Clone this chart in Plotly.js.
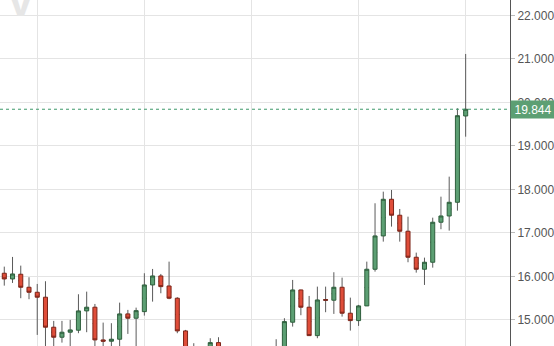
<!DOCTYPE html>
<html>
<head>
<meta charset="utf-8">
<script src="https://cdn.plot.ly/plotly-3.0.1.min.js"></script>
<style>html,body{margin:0;padding:0;background:#fff;}#chart{width:554px;height:346px;}</style>
</head>
<body>
<div id="chart"></div>
<script>
// Candle index (session number)
const sessions = [0,1,2,3,4,5,6,7,8,9,10,11,12,13,14,15,16,17,18,19,20,21,22,23,24,25,26,27,28,29,30,31,32,33,34,35,36,37,38,39,40,41,42,43,44,45,46,47,48,49,50,51,52,53,54,55,56];
const opens  = [16.073,15.942,16.050,15.751,15.636,15.522,14.832,14.602,14.717,14.763,15.207,15.292,14.540,14.510,14.556,15.138,15.039,15.190,15.804,16.011,15.780,15.499,14.747,14.300,14.250,14.290,14.478,14.320,14.150,14.050,14.100,14.000,14.080,14.200,14.350,14.947,15.689,15.292,14.639,15.465,15.453,15.751,15.154,14.984,15.322,16.165,16.931,17.774,17.407,17.039,16.441,16.165,16.326,17.246,17.390,17.705,19.689];
const highs  = [16.225,16.448,16.248,15.981,15.827,15.889,14.977,14.977,15.000,15.590,15.650,15.367,14.938,14.924,15.397,15.230,15.282,16.073,16.172,16.057,16.340,15.522,14.770,14.464,14.360,14.579,14.602,14.370,14.300,14.250,14.280,14.220,14.300,14.556,15.039,15.919,15.695,15.551,15.765,15.765,16.096,15.972,15.512,15.345,16.340,17.682,17.949,17.988,17.551,17.374,16.547,16.432,17.351,17.834,18.294,19.866,21.115];
const lows   = [15.788,15.850,15.499,15.476,14.655,14.300,14.350,14.478,14.350,14.694,14.717,14.390,14.350,14.350,14.350,14.678,14.380,15.099,15.420,15.613,15.476,14.694,14.200,14.180,14.150,14.200,14.200,14.050,13.950,13.900,13.950,13.900,13.950,14.050,14.300,14.846,15.108,14.630,14.579,15.177,15.138,15.076,14.754,14.862,15.320,16.110,16.800,17.145,16.800,16.326,16.087,15.804,16.202,17.085,17.053,17.512,19.213];
const closes = [15.942,16.057,15.751,15.636,15.522,14.832,14.602,14.717,14.770,15.207,15.292,14.540,14.510,14.556,15.138,15.039,15.213,15.804,16.011,15.765,15.499,14.747,14.300,14.250,14.290,14.478,14.320,14.150,14.050,14.100,14.000,14.080,14.200,14.350,14.961,15.689,15.292,14.639,15.459,15.455,15.751,15.154,14.984,15.322,16.165,16.931,17.774,17.407,17.039,16.441,16.165,16.326,17.246,17.390,17.705,19.696,19.844];
const yTickVals = [15,16,17,18,19,20,21,22];
const yTickText = ["15.000","16.000","17.000","18.000","19.000","20.000","21.000","22.000"];
const xGridVals = [4,17,30,43,56];

const bodyHigh = opens.map((o,i)=>Math.max(o,closes[i]));
const bodyLow  = opens.map((o,i)=>Math.min(o,closes[i]));
const mids     = opens.map((o,i)=>(o+closes[i])/2);
const lastPrice = closes[closes.length-1];

const wickColor = '#5a5a5a';
const traces = [
  { // wicks (gray)
    type:'candlestick', x:sessions, open:mids, close:mids, high:highs, low:lows,
    increasing:{line:{color:wickColor,width:1},fillcolor:'rgba(0,0,0,0)'},
    decreasing:{line:{color:wickColor,width:1},fillcolor:'rgba(0,0,0,0)'},
    whiskerwidth:0, hoverinfo:'skip', showlegend:false
  },
  { // bodies
    type:'candlestick', x:sessions, open:opens, close:closes, high:bodyHigh, low:bodyLow,
    increasing:{line:{color:'#2f5f3d',width:1},fillcolor:'#5c9f73'},
    decreasing:{line:{color:'#7c2519',width:1},fillcolor:'#df4d39'},
    whiskerwidth:0, hoverinfo:'skip', showlegend:false
  }
];

const layout = {
  width:554, height:346,
  margin:{l:0,r:44,t:0,b:0,pad:0},
  paper_bgcolor:'#ffffff', plot_bgcolor:'#ffffff',
  showlegend:false, hovermode:false,
  xaxis:{
    range:[-0.52,61.38], rangeslider:{visible:false},
    tickmode:'array', tickvals:xGridVals, showticklabels:false, ticks:'',
    showgrid:true, gridcolor:'#e4e4e4', gridwidth:1, zeroline:false, showline:false, fixedrange:true
  },
  yaxis:{
    side:'right', range:[14.40,22.356],
    tickmode:'array', tickvals:yTickVals, ticktext:yTickText,
    ticks:'outside', ticklen:4, tickcolor:'#bbbbbb',
    tickfont:{family:'Liberation Sans, Arial, sans-serif', size:12, color:'#555555'},
    showgrid:true, gridcolor:'#e4e4e4', gridwidth:1, zeroline:false,
    showline:true, linecolor:'#555555', linewidth:1, fixedrange:true
  },
  shapes:[
    {type:'line', xref:'paper', x0:0, x1:1, yref:'y', y0:lastPrice, y1:lastPrice,
     line:{color:'#3d9a6a', width:1, dash:'dot'}, layer:'above'}
  ],
  annotations:[
    {xref:'paper', x:1, xanchor:'left', yref:'y', y:lastPrice, yanchor:'middle',
     text:lastPrice.toFixed(3), showarrow:false, bgcolor:'#5c9f73',
     font:{family:'Liberation Sans, Arial, sans-serif', size:12, color:'#ffffff'},
     width:42, height:15, align:'center', borderpad:1},
    {xref:'paper', x:0.042, xanchor:'center', yref:'paper', y:1.0, yanchor:'middle',
     text:'<b>V</b>', showarrow:false,
     font:{family:'Liberation Sans, Arial, sans-serif', size:44, color:'#e6e6e6'}}
  ]
};

Plotly.newPlot('chart', traces, layout, {staticPlot:true, displayModeBar:false});
</script>
</body>
</html>
